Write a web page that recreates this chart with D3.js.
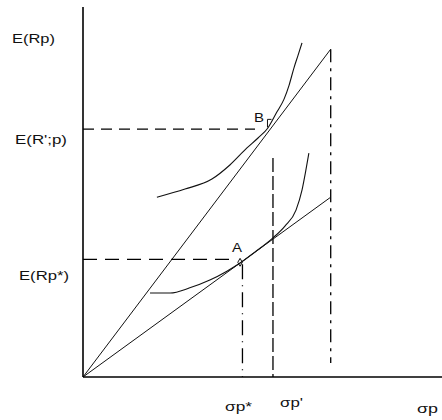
<!DOCTYPE html>
<html>
    <head>
        <style>
            body { margin: 0; background: #fff; }
            .label {
               font: 13px "Liberation Sans", Arial, sans-serif;
               fill: #111;
            }
            .axis { stroke: #000; stroke-width: 1.6; }
            .line { stroke: #111; stroke-width: 1; fill: none; }
            .curve { stroke: #111; stroke-width: 1.1; fill: none; }
            .guide { stroke: #000; stroke-width: 1.3; fill: none; }
        </style>
    <script src="https://d3js.org/d3.v7.min.js"></script>
    <script>
        // values (abstract units: sigma on x, E(R) on y)
        var xMax = 12, yMax = 10;
        var sigStar = 5.33, sigPrime = 6.35, sigFar = 8.28;
        var eStar = 3.18, ePrime = 6.70;
        var steepEnd = 8.86, flatEnd = 4.86;

        var upperCurveX = [2.47, 3.41, 4.31, 4.91, 5.48, 5.85, 6.18, 6.48, 6.72, 6.89, 7.05, 7.19, 7.32];
        var upperCurveY = [4.86, 5.08, 5.35, 5.73, 6.19, 6.46, 6.73, 7.16, 7.51, 7.89, 8.35, 8.70, 9.03];
        var lowerCurveX = [2.24, 2.91, 3.57, 4.24, 4.81, 5.25, 5.75, 6.35, 6.75, 7.12, 7.32, 7.45, 7.55];
        var lowerCurveY = [2.27, 2.27, 2.41, 2.62, 2.86, 3.08, 3.38, 3.76, 4.08, 4.51, 5.05, 5.59, 6.05];

        var pointA = [5.25, 3.10];
        var pointB = [6.20, 6.72];

        function drawChart () {
            var width = 442, height = 420;
            var svg = d3.select('body')
                .append('svg')
                .attr('width', width)
                .attr('height', height);

            var x = d3.scaleLinear().domain([0, xMax]).range([83, 442]);
            var y = d3.scaleLinear().domain([0, yMax]).range([377, 7]);

            var line = d3.line()
                .x(function (d) { return x(d[0]); })
                .y(function (d) { return y(d[1]); });

            // dashed guides
            var guides = [
                { pts: [[0, ePrime], [5.75, ePrime]], dash: '11,7' },
                { pts: [[0, eStar], [4.95, eStar]], dash: '14,8' },
                { pts: [[sigStar, 3.05], [sigStar, 0]], dash: '15,6,1,6' },
                { pts: [[sigPrime, 5.92], [sigPrime, 0]], dash: '14,4' },
                { pts: [[sigFar, steepEnd], [sigFar, 0.38]], dash: '13,6,3,6' }
            ];
            svg.selectAll('.guide')
                .data(guides)
                .enter()
                .append('path')
                .attr('class', 'guide')
                .attr('d', function (d) { return line(d.pts); })
                .attr('stroke-dasharray', function (d) { return d.dash; });

            // the two rays from the origin
            svg.append('path').attr('class', 'line')
                .attr('d', line([[0, 0], [sigFar, steepEnd]]));
            svg.append('path').attr('class', 'line')
                .attr('d', line([[0, 0], [sigFar, flatEnd]]));

            // indifference curves
            var curve = d3.line()
                .x(function (d) { return x(d[0]); })
                .y(function (d) { return y(d[1]); })
                .curve(d3.curveMonotoneX);
            svg.append('path').attr('class', 'curve')
                .attr('d', curve(d3.zip(upperCurveX, upperCurveY)));
            svg.append('path').attr('class', 'curve')
                .attr('d', curve(d3.zip(lowerCurveX, lowerCurveY)));

            // axes
            svg.append('line').attr('class', 'axis')
                .attr('x1', x(0)).attr('y1', y(0))
                .attr('x2', x(0)).attr('y2', y(yMax));
            svg.append('line').attr('class', 'axis')
                .attr('x1', x(0)).attr('y1', y(0))
                .attr('x2', x(xMax)).attr('y2', y(0));

            // little marks at the tangency points
            svg.append('path').attr('class', 'line')
                .attr('d', d3.symbol().type(d3.symbolDiamond).size(18)())
                .attr('transform', 'translate(' + x(pointA[0]) + ',' + y(pointA[1]) + ')');
            svg.append('path').attr('class', 'line')
                .attr('d', 'M-1,-1 L-1,-9 L3,-9')
                .attr('transform', 'translate(' + x(pointB[0]) + ',' + y(pointB[1]) + ')');

            // texts
            var labels = [
                { t: 'E(Rp)', x: 12, y: 43, w: 43 },
                { t: "E(R';p)", x: 15, y: 144, w: 52 },
                { t: 'E(Rp*)', x: 19, y: 280, w: 50 },
                { t: 'σp*', x: 225, y: 411, w: 27 },
                { t: "σp'", x: 280, y: 407, w: 23 },
                { t: 'σp', x: 417, y: 413, w: 21 },
                { t: 'A', x: 232, y: 252, w: 10 },
                { t: 'B', x: 254, y: 122, w: 10 }
            ];
            svg.selectAll('.label')
                .data(labels)
                .enter()
                .append('text')
                .attr('class', 'label')
                .attr('x', function (d) { return d.x; })
                .attr('y', function (d) { return d.y; })
                .attr('textLength', function (d) { return d.w; })
                .attr('lengthAdjust', 'spacingAndGlyphs')
                .text(function (d) { return d.t; });
        }

        function load () {
            drawChart();
        }
    </script>
    </head>
    <body onload = "load()">

    </body>
</html>
